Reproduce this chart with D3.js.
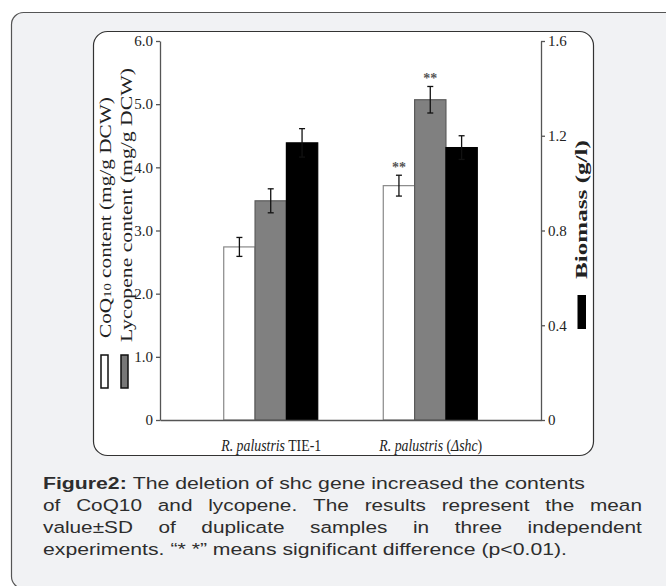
<!DOCTYPE html>
<html>
<head>
<meta charset="utf-8">
<script src="https://cdn.jsdelivr.net/npm/d3@7"></script>
<style>
  body { margin: 0; background: #fff; }
  svg { display: block; }
</style>
</head>
<body>
<script>
// data
const categories = ["R. palustris TIE-1", "R. palustris (\u0394shc)"];
const series = ["CoQ10", "Lycopene", "Biomass"];
const coq10 = [2.74, 3.71];
const coq10Sd = [0.15, 0.165];
const lycopene = [3.47, 5.07];
const lycopeneSd = [0.19, 0.21];
const biomass = [1.17, 1.15];
const biomassSd = [0.06, 0.05];
const coq10Sig = ["", "**"];
const lycopeneSig = ["", "**"];
const biomassSig = ["", ""];
const leftTicks = [0, 1, 2, 3, 4, 5, 6];
const rightTicks = [0, 0.4, 0.8, 1.2, 1.6];

const captionLines = [
  "Figure2: The deletion of shc gene increased the contents",
  "of CoQ10 and lycopene. The results represent the mean",
  "value\u00b1SD of duplicate samples in three independent",
  "experiments. \u201c* *\u201d means significant difference (p<0.01)."
];

const W = 666, H = 586;
const svg = d3.select("body").append("svg").attr("width", W).attr("height", H);

// panels
svg.append("rect").attr("x", 11.5).attr("y", 12.5).attr("width", 700).attr("height", 576)
  .attr("rx", 12).attr("fill", "#f1f2f4").attr("stroke", "#555").attr("stroke-width", 1.2);
svg.append("rect").attr("x", 93.5).attr("y", 31.5).attr("width", 500).attr("height", 424)
  .attr("rx", 14).attr("fill", "#fff").attr("stroke", "#333").attr("stroke-width", 1.2);

const x = d3.scalePoint().domain(categories).range([160, 541]).padding(0.694);
const xs = d3.scaleBand().domain(series).range([-47, 47]);
const yL = d3.scaleLinear().domain([0, 6]).range([420, 41]);
const yR = d3.scaleLinear().domain([0, 1.6]).range([420, 41]);

const fmt = d => d === 0 ? "0" : d3.format(".1f")(d);
const serif = "'Liberation Serif', 'Times New Roman', serif";

// squeeze/stretch a text node along its own x so it spans `len` pixels
function fitText(t, len, tx, ty, rot) {
  const w = t.node().getComputedTextLength();
  t.attr("x", 0).attr("y", 0)
    .attr("transform", `translate(${tx},${ty})` + (rot ? ` rotate(${rot})` : "") + ` scale(${len / w},1)`);
}

const rows = [];
categories.forEach((c, i) => {
  rows.push({cat: c, s: "CoQ10", v: coq10[i], sd: coq10Sd[i], sig: coq10Sig[i], y: yL, fill: "#fff", stroke: "#888"});
  rows.push({cat: c, s: "Lycopene", v: lycopene[i], sd: lycopeneSd[i], sig: lycopeneSig[i], y: yL, fill: "#808080", stroke: "#5a5a5a"});
  rows.push({cat: c, s: "Biomass", v: biomass[i], sd: biomassSd[i], sig: biomassSig[i], y: yR, fill: "#000", stroke: "#000"});
});

svg.selectAll("rect.bar").data(rows).enter().append("rect")
  .attr("class", "bar")
  .attr("x", d => x(d.cat) + xs(d.s))
  .attr("y", d => d.y(d.v))
  .attr("width", xs.bandwidth())
  .attr("height", d => d.y(0) - d.y(d.v))
  .attr("fill", d => d.fill)
  .attr("stroke", d => d.stroke)
  .attr("stroke-width", 1.2);

// error bars
const eb = svg.selectAll("g.err").data(rows).enter().append("g").attr("class", "err")
  .attr("stroke", "#111").attr("stroke-width", 1.3);
const cx = d => x(d.cat) + xs(d.s) + xs.bandwidth() / 2;
eb.append("line").attr("x1", cx).attr("x2", cx)
  .attr("y1", d => d.y(d.v + d.sd)).attr("y2", d => d.y(d.v - d.sd));
eb.append("line").attr("x1", d => cx(d) - 3).attr("x2", d => cx(d) + 3)
  .attr("y1", d => d.y(d.v + d.sd)).attr("y2", d => d.y(d.v + d.sd));
eb.append("line").attr("x1", d => cx(d) - 3).attr("x2", d => cx(d) + 3)
  .attr("y1", d => d.y(d.v - d.sd)).attr("y2", d => d.y(d.v - d.sd));

// significance stars
svg.selectAll("text.sig").data(rows.filter(d => d.sig)).enter().append("text")
  .attr("class", "sig")
  .attr("x", cx).attr("y", d => d.y(d.v + d.sd) - 3)
  .attr("text-anchor", "middle")
  .attr("font-family", serif).attr("font-size", 14).attr("font-weight", "bold")
  .attr("fill", "#555")
  .text(d => d.sig);

// axes
const gl = svg.append("g").attr("transform", "translate(160,0)")
  .call(d3.axisLeft(yL).tickValues(leftTicks).tickFormat(fmt).tickSize(4).tickSizeOuter(0).tickPadding(3));
const gr = svg.append("g").attr("transform", "translate(541,0)")
  .call(d3.axisRight(yR).tickValues(rightTicks).tickFormat(fmt).tickSize(4).tickSizeOuter(0).tickPadding(3));
const gx = svg.append("g").attr("transform", "translate(0,420)")
  .call(d3.axisBottom(x).tickSize(0).tickSizeOuter(0));

[gl, gr, gx].forEach(g => {
  g.select(".domain").attr("stroke", "#555").attr("stroke-width", 1.3);
  g.selectAll(".tick line").attr("stroke", "#555").attr("stroke-width", 1.3);
  g.selectAll(".tick text").attr("font-family", serif).attr("font-size", 15).attr("fill", "#222");
});

// category labels with italic parts
const labelParts = {
  "R. palustris TIE-1": [["R. palustris", true], [" TIE-1", false]],
  "R. palustris (\u0394shc)": [["R. palustris", true], [" (", false], ["\u0394shc", true], [")", false]]
};
const labelWidth = {"R. palustris TIE-1": 100, "R. palustris (\u0394shc)": 103};
gx.selectAll(".tick text").remove();
gx.selectAll(".tick").each(function(d) {
  const t = d3.select(this).append("text")
    .attr("font-family", serif).attr("font-size", 16).attr("fill", "#222")
    .attr("text-anchor", "middle");
  labelParts[d].forEach(p => {
    t.append("tspan").attr("font-style", p[1] ? "italic" : "normal").text(p[0]);
  });
  fitText(t, labelWidth[d], 0, 31);
});

// rotated axis titles
const coqT = svg.append("text")
  .attr("font-family", serif).attr("font-size", 16).attr("fill", "#222");
coqT.append("tspan").text("CoQ");
coqT.append("tspan").attr("font-size", 11).text("10");
coqT.append("tspan").text(" content (mg/g DCW)");
fitText(coqT, 241, 111, 338, -90);

const lycT = svg.append("text")
  .attr("font-family", serif).attr("font-size", 16).attr("fill", "#222")
  .text("Lycopene content (mg/g DCW)");
fitText(lycT, 274, 132, 342, -90);

const bioT = svg.append("text")
  .attr("font-family", serif).attr("font-size", 16).attr("font-weight", "bold").attr("fill", "#222")
  .text("Biomass (g/l)");
fitText(bioT, 139, 587, 279, -90);

// legend swatches
svg.append("rect").attr("x", 101).attr("y", 355).attr("width", 7).attr("height", 33)
  .attr("fill", "#fff").attr("stroke", "#111").attr("stroke-width", 1.5);
svg.append("rect").attr("x", 121).attr("y", 355).attr("width", 7).attr("height", 33)
  .attr("fill", "#777").attr("stroke", "#111").attr("stroke-width", 1.5);
svg.append("rect").attr("x", 577.5).attr("y", 295).attr("width", 8.5).attr("height", 34)
  .attr("fill", "#000");

// caption, word by word so lines 2-3 can be justified
const capX0 = 43, capBase = [489, 511, 533, 555], capEnd = [585, 642, 642, 567], justify = [false, true, true, false];
const cap = svg.append("g").attr("font-family", "'Liberation Sans', Arial, sans-serif")
  .attr("font-size", 16.5).attr("fill", "#2d2d2d");
const probe = cap.append("text").text("a a");
const probe2 = cap.append("text").text("aa");
const spaceW = probe.node().getComputedTextLength() - probe2.node().getComputedTextLength();
probe.remove(); probe2.remove();

captionLines.forEach((line, li) => {
  const words = line.split(" ");
  const nodes = words.map((w, wi) => {
    const t = cap.append("text").text(w);
    if (li === 0 && wi === 0) t.attr("font-weight", "bold");
    return {t: t, w: t.node().getComputedTextLength()};
  });
  const sum = d3.sum(nodes, n => n.w);
  const span = capEnd[li] - capX0;
  let sx, gap;
  if (justify[li]) {
    sx = 1.26;
    gap = (span - sum * sx) / (nodes.length - 1);
  } else {
    sx = span / (sum + spaceW * (nodes.length - 1));
    gap = spaceW * sx;
  }
  let cur = capX0;
  nodes.forEach(n => {
    n.t.attr("x", 0).attr("y", 0)
      .attr("transform", `translate(${cur},${capBase[li]}) scale(${sx},1)`);
    cur += n.w * sx + gap;
  });
});
</script>
</body>
</html>
